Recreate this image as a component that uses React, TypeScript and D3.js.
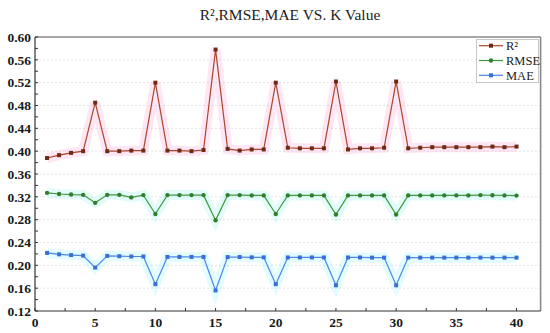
import React from "react";
import * as d3 from "d3";

const kValues = d3.range(1, 41);
const r2 = [0.388, 0.393, 0.397, 0.4, 0.485, 0.4, 0.4, 0.401, 0.401, 0.52,
  0.401, 0.401, 0.4, 0.402, 0.578, 0.404, 0.401, 0.403, 0.403, 0.52,
  0.406, 0.405, 0.405, 0.405, 0.522, 0.403, 0.405, 0.405, 0.406, 0.522,
  0.405, 0.406, 0.407, 0.407, 0.407, 0.407, 0.407, 0.408, 0.407, 0.408];
const rmse = [0.327, 0.325, 0.324, 0.3235, 0.3095, 0.3235, 0.3235, 0.319, 0.323, 0.29,
  0.323, 0.323, 0.323, 0.323, 0.279, 0.323, 0.323, 0.3225, 0.3225, 0.29,
  0.3225, 0.3225, 0.3225, 0.3225, 0.289, 0.3225, 0.3225, 0.3225, 0.3225, 0.289,
  0.3225, 0.3225, 0.3225, 0.3225, 0.3225, 0.3225, 0.323, 0.3228, 0.3225, 0.3222];
const mae = [0.2217, 0.2193, 0.218, 0.217, 0.196, 0.2165, 0.216, 0.2155, 0.2155, 0.167,
  0.2147, 0.2147, 0.2147, 0.2147, 0.156, 0.2145, 0.2145, 0.214, 0.214, 0.167,
  0.2138, 0.2138, 0.2138, 0.2138, 0.165, 0.2138, 0.2138, 0.2135, 0.2135, 0.165,
  0.2135, 0.2135, 0.2135, 0.2135, 0.2135, 0.2135, 0.2135, 0.2135, 0.2135, 0.2135];
const yTicks = [0.12, 0.16, 0.2, 0.24, 0.28, 0.32, 0.36, 0.4, 0.44, 0.48, 0.52, 0.56, 0.6];
const xTicks = [0, 5, 10, 15, 20, 25, 30, 35, 40];
const seriesNames = ["R\u00B2", "RMSE", "MAE"];

const W = 550, H = 333;
const L = 35, R = 540.6, T = 37, B = 311;

export default function App() {
  const x = d3.scaleLinear().domain([0, 42]).range([L, R]);
  const y = d3.scaleLinear().domain([0.12, 0.6]).range([B, T]);
  const series = [
    { name: seriesNames[0], vals: r2, line: "#a8462c", mark: "#6e2a14", halo: "#ff8fcf", shape: "square" },
    { name: seriesNames[1], vals: rmse, line: "#3f9a3f", mark: "#2f7f2f", halo: "#7ff0e6", shape: "circle" },
    { name: seriesNames[2], vals: mae, line: "#4f86e6", mark: "#3a6fd6", halo: "#7ff0ff", shape: "square" },
  ];
  const line = (vals: number[]) =>
    d3.line<number>().x((_, i) => x(kValues[i])).y((v) => y(v))(vals) || "";
  const minorY = d3.range(0.12, 0.6001, 0.02);
  const minorX = d3.range(0, 42.01, 2.5);
  const serif = "'Liberation Serif', 'Times New Roman', serif";
  const marker = (s: any, cx: number, cy: number, key: any, size = 4) =>
    s.shape === "square" ? (
      <rect key={key} x={cx - size / 2} y={cy - size / 2} width={size} height={size} fill={s.mark} />
    ) : (
      <circle key={key} cx={cx} cy={cy} r={size / 2 + 0.2} fill={s.mark} />
    );
  return (
    <svg width={W} height={H} style={{ position: "absolute", left: 0, top: 0, background: "#fff" }} fontFamily={serif}>
      <text x={290} y={20} textAnchor="middle" fontSize={15.5} fill="#222">R²,RMSE,MAE VS. K Value</text>
      {yTicks.slice(1, -1).map((t) => (
        <line key={"g" + t} x1={L} x2={R} y1={y(t)} y2={y(t)} stroke="#e4e4e4" strokeWidth={1} strokeDasharray="2,2" />
      ))}
      {series.map((s) => (
        <path key={"h" + s.name} d={line(s.vals)} fill="none" stroke={s.halo} strokeOpacity={0.22} strokeWidth={10} />
      ))}
      {series.map((s) => (
        <g key={s.name}>
          <path d={line(s.vals)} fill="none" stroke={s.line} strokeWidth={1.2} />
          {s.vals.map((v, i) => marker(s, x(kValues[i]), y(v), i))}
        </g>
      ))}
      <line x1={L} x2={R} y1={T} y2={T} stroke="#8a8a8a" strokeWidth={1.6} />
      <line x1={R} x2={R} y1={T} y2={B} stroke="#8a8a8a" strokeWidth={1.6} />
      <line x1={L} x2={L} y1={T} y2={B} stroke="#333" strokeWidth={1.2} />
      <line x1={L} x2={R} y1={B} y2={B} stroke="#333" strokeWidth={1.2} />
      {minorY.map((t) => (
        <line key={"my" + t} x1={L} x2={L + 3} y1={y(t)} y2={y(t)} stroke="#333" strokeWidth={1} />
      ))}
      {minorX.map((t) => (
        <line key={"mx" + t} x1={x(t)} x2={x(t)} y1={B} y2={B - 3} stroke="#333" strokeWidth={1} />
      ))}
      {yTicks.map((t) => (
        <text key={"yl" + t} x={31} y={y(t) + 4.7} textAnchor="end" fontSize={13.5} fontWeight="bold" fill="#1a1a1a">
          {t.toFixed(2)}
        </text>
      ))}
      {xTicks.map((t) => (
        <text key={"xl" + t} x={x(t)} y={327} textAnchor="middle" fontSize={13.5} fontWeight="bold" fill="#1a1a1a">
          {t}
        </text>
      ))}
      <rect x={476.5} y={39.5} width={62} height={43} fill="#fff" stroke="#c8c8c8" strokeWidth={1} />
      {series.map((s, i) => {
        const ly = 45.7 + i * 14.8;
        return (
          <g key={"lg" + s.name}>
            <line x1={479} x2={503} y1={ly} y2={ly} stroke={s.line} strokeWidth={1.2} />
            {marker(s, 491, ly, "m")}
            <text x={506} y={ly + 4.2} fontSize={12.5} fill="#222">{s.name}</text>
          </g>
        );
      })}
    </svg>
  );
}
